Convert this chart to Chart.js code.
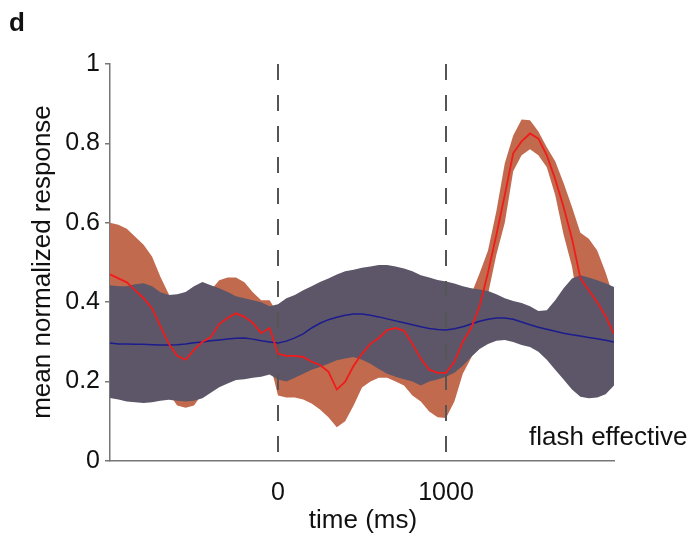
<!DOCTYPE html>
<html lang="en">
<head>
    <meta charset="UTF-8">
    <title>flash effective</title>
    <script src="https://cdn.jsdelivr.net/npm/chart.js@4"></script>
    <style>
        body { margin: 0; background: #fff; }
    </style>
</head>
<body>
    <canvas id="myChart" width="694" height="537"></canvas>

    <script>
        // time axis (ms), one sample every 50 ms
        const times = [-1000,-950,-900,-850,-800,-750,-700,-650,-600,-550,
                       -500,-450,-400,-350,-300,-250,-200,-150,-100,-50,
                       0,50,100,150,200,250,300,350,400,450,
                       500,550,600,650,700,750,800,850,900,950,
                       1000,1050,1100,1150,1200,1250,1300,1350,1400,1450,
                       1500,1550,1600,1650,1700,1750,1800,1850,1900,1950,2000]

        // red trace and its orange band
        const redMean = [0.47,0.46,0.45,0.43,0.41,0.385,0.34,0.295,0.265,0.255,
                         0.28,0.30,0.312,0.345,0.36,0.372,0.363,0.348,0.322,0.335,
                         0.27,0.265,0.265,0.262,0.25,0.242,0.225,0.18,0.20,0.24,
                         0.27,0.295,0.31,0.33,0.335,0.328,0.295,0.258,0.23,0.222,
                         0.222,0.25,0.30,0.335,0.39,0.475,0.57,0.67,0.775,0.805,
                         0.825,0.812,0.77,0.71,0.64,0.56,0.46,0.43,0.40,0.365,0.32]
        const redHi = [0.60,0.595,0.585,0.565,0.545,0.515,0.464,0.42,0.38,0.375,
                       0.40,0.425,0.43,0.455,0.462,0.462,0.45,0.425,0.405,0.405,
                       0.37,0.365,0.36,0.355,0.35,0.33,0.32,0.275,0.29,0.32,
                       0.35,0.38,0.40,0.42,0.43,0.42,0.40,0.37,0.34,0.33,
                       0.33,0.34,0.38,0.42,0.473,0.53,0.63,0.75,0.82,0.86,
                       0.858,0.83,0.79,0.755,0.70,0.64,0.575,0.56,0.53,0.475,0.41]
        const redLo = [0.34,0.33,0.32,0.30,0.28,0.26,0.22,0.17,0.14,0.134,
                       0.14,0.17,0.19,0.23,0.26,0.28,0.28,0.27,0.24,0.25,
                       0.165,0.16,0.16,0.155,0.145,0.13,0.11,0.085,0.10,0.14,
                       0.185,0.20,0.21,0.21,0.20,0.19,0.165,0.15,0.125,0.11,
                       0.108,0.15,0.22,0.26,0.31,0.42,0.52,0.60,0.73,0.77,
                       0.785,0.77,0.74,0.67,0.57,0.49,0.36,0.32,0.29,0.26,0.22]

        // blue trace and its grey band
        const blueMean = [0.297,0.295,0.295,0.294,0.294,0.293,0.292,0.292,0.293,0.295,
                          0.298,0.30,0.303,0.305,0.307,0.309,0.31,0.307,0.303,0.30,
                          0.297,0.302,0.31,0.32,0.335,0.347,0.356,0.362,0.367,0.37,
                          0.37,0.367,0.363,0.358,0.353,0.348,0.343,0.338,0.334,0.331,
                          0.33,0.333,0.338,0.345,0.352,0.357,0.36,0.36,0.357,0.35,
                          0.343,0.337,0.332,0.327,0.322,0.318,0.315,0.311,0.308,0.304,0.30]
        const blueHi = [0.443,0.44,0.44,0.445,0.448,0.44,0.425,0.418,0.42,0.426,
                        0.44,0.451,0.443,0.435,0.426,0.415,0.41,0.405,0.40,0.39,
                        0.395,0.41,0.418,0.43,0.44,0.451,0.46,0.47,0.478,0.482,
                        0.487,0.49,0.494,0.494,0.49,0.485,0.478,0.468,0.462,0.456,
                        0.452,0.447,0.44,0.435,0.432,0.428,0.42,0.41,0.403,0.398,
                        0.39,0.378,0.38,0.405,0.435,0.46,0.468,0.462,0.455,0.448,0.438]
        const blueLo = [0.159,0.155,0.15,0.148,0.146,0.148,0.152,0.154,0.152,0.15,
                        0.152,0.158,0.172,0.186,0.195,0.204,0.206,0.21,0.212,0.218,
                        0.205,0.2,0.21,0.22,0.23,0.237,0.245,0.254,0.258,0.262,
                        0.255,0.245,0.232,0.22,0.212,0.206,0.2,0.19,0.2,0.205,
                        0.212,0.222,0.24,0.262,0.282,0.295,0.303,0.305,0.3,0.292,
                        0.287,0.275,0.255,0.23,0.205,0.18,0.162,0.158,0.16,0.168,0.19]

        // event markers (dashed lines) and x tick labels
        const markers = [0, 1000]
        const xTicks = [0, 1000]

        const FONT = '"Liberation Sans", Arial, sans-serif'

        const pts = (arr) => times.map((t, i) => ({x: t, y: arr[i]}))
        const vline = (t) => [{x: t, y: 1}, {x: t, y: 0}]

        const band = (data, color, order) => ({
            data: data, borderWidth: 0, pointRadius: 0,
            backgroundColor: color, order: order, tension: 0
        })

        const textPlugin = {
            id: 'texts',
            afterDraw(chart) {
                const c = chart.ctx
                c.save()
                c.fillStyle = '#111'
                c.font = 'bold 26px ' + FONT
                c.textAlign = 'left'
                c.textBaseline = 'alphabetic'
                c.fillText('d', 9, 31)

                c.font = '26px ' + FONT
                c.fillText('flash effective', 529, 445)

                c.textAlign = 'center'
                c.textBaseline = 'middle'
                c.fillText('time (ms)', 363, 521)

                c.translate(43, 262)
                c.rotate(-Math.PI / 2)
                c.fillText('mean normalized response', 0, 0)
                c.restore()
            }
        }

        var ctx = document.getElementById('myChart')
        var myChart = new Chart(ctx, {
            type: 'line',
            data: {
                datasets: [
                    Object.assign(band(pts(redHi), '#c26a4e', 8), {fill: '+1'}),
                    band(pts(redLo), '#c26a4e', 8),
                    Object.assign(band(pts(blueHi), '#5c5668', 7), {fill: '+1'}),
                    band(pts(blueLo), '#5c5668', 7),
                    {data: vline(markers[0]), borderColor: '#555', borderWidth: 2, borderDash: [16, 15], pointRadius: 0, order: 6},
                    {data: vline(markers[1]), borderColor: '#555', borderWidth: 2, borderDash: [16, 15], pointRadius: 0, order: 6},
                    {data: pts(blueMean), borderColor: '#1c1c8f', borderWidth: 1.5, pointRadius: 0, order: 2},
                    {data: pts(redMean), borderColor: '#f01c1c', borderWidth: 1.8, pointRadius: 0, order: 1}
                ]
            },
            options: {
                responsive: false,
                animation: false,
                layout: { padding: { top: 64, right: 80, left: 0, bottom: 0 } },
                plugins: { legend: { display: false }, tooltip: { enabled: false } },
                scales: {
                    x: {
                        type: 'linear',
                        min: -1000,
                        max: 2000,
                        afterFit: (s) => { s.height = 76 },
                        afterBuildTicks: (s) => { s.ticks = xTicks.map(v => ({value: v})) },
                        grid: { display: false, drawTicks: false },
                        border: { display: true, color: '#777', width: 1.5 },
                        ticks: {
                            color: '#111',
                            padding: 17,
                            maxRotation: 0,
                            font: { family: FONT, size: 25 },
                            callback: (v) => String(v)
                        }
                    },
                    y: {
                        min: 0,
                        max: 1,
                        afterFit: (s) => { s.width = 110 },
                        grid: { drawOnChartArea: false, drawTicks: true, tickLength: 5, color: '#777', lineWidth: 1.5 },
                        border: { display: true, color: '#777', width: 1.5 },
                        ticks: {
                            stepSize: 0.2,
                            color: '#111',
                            padding: 5,
                            font: { family: FONT, size: 25 },
                            callback: (v) => String(+v.toFixed(1))
                        }
                    }
                }
            },
            plugins: [textPlugin]
        })
    </script>
</body>
</html>
